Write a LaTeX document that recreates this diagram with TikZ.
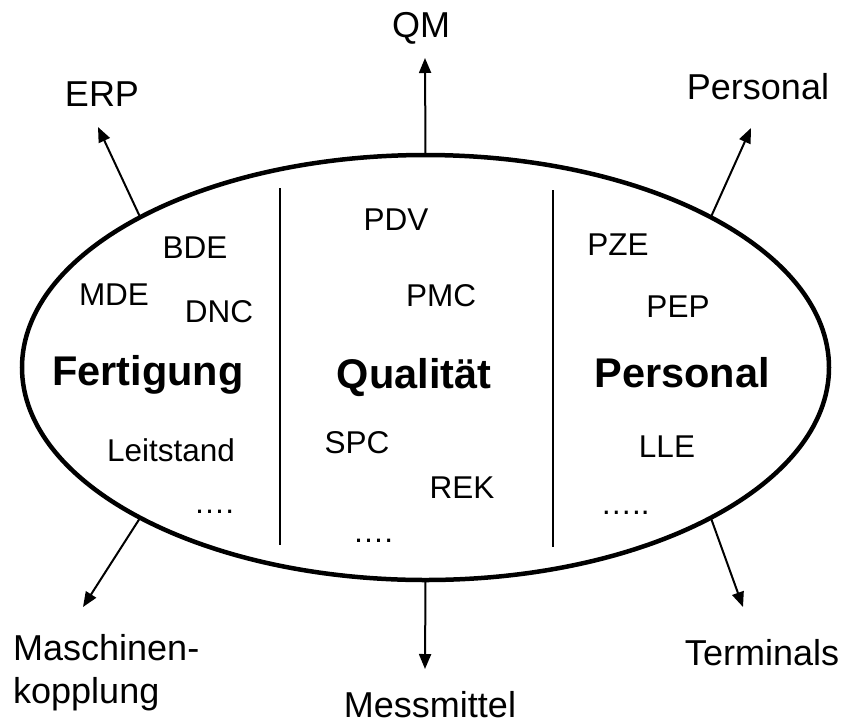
\documentclass[tikz,border=0pt]{standalone}
\usepackage{fontspec}
\setmainfont{Liberation Sans}
\usetikzlibrary{arrows.meta,shapes.geometric}
\begin{document}
\begin{tikzpicture}[x=1pt,y=-1pt,
  lbl/.style={font=\fontsize{36}{43}\selectfont, inner sep=0pt, anchor=base},
  sm/.style={font=\fontsize{31.5}{34}\selectfont, inner sep=0pt, anchor=base},
  big/.style={font=\bfseries\fontsize{41.5}{44}\selectfont, inner sep=0pt, anchor=base},
  arr/.style={line width=2pt, -{Triangle[length=15pt,width=12pt]}},
  divline/.style={line width=1.6pt}]
\useasboundingbox (0,0) rectangle (846,724);
\node[draw, ellipse, line width=4.5pt, inner sep=0pt, outer sep=0pt,
      minimum width=807pt, minimum height=425pt] (E) at (425.5,367.5) {};
% dividers
\coordinate (d1t) at (280,188);
\coordinate (d1b) at (280,545);
\coordinate (d2t) at (553,190);
\coordinate (d2b) at (553,547);
\draw[divline] (d1t) -- (d1b);
\draw[divline] (d2t) -- (d2b);
% arrow ends
\coordinate (tQM) at (425,58);
\coordinate (tERP) at (98,127);
\coordinate (tPer) at (751,128);
\coordinate (tMas) at (83,607);
\coordinate (tMes) at (425,669);
\coordinate (tTer) at (743,607);
\draw[arr] (E.north) -- (tQM);
\draw[arr] (E.north west) -- (tERP);
\draw[arr] (E.north east) -- (tPer);
\draw[arr] (E.south west) -- (tMas);
\draw[arr] (E.south) -- (tMes);
\draw[arr] (E.south east) -- (tTer);
% outer labels
\node[lbl] (qm) at (421,37) {QM};
\node[lbl] (erp) at (102,106) {ERP};
\node[lbl] (pers) at (758,99) {Personal};
\node[lbl, anchor=base west, align=left] (masch) at (13,703) {Maschinen-\\kopplung};
\node[lbl] (mess) at (430,717) {Messmittel};
\node[lbl] (term) at (762,665) {Terminals};
% Fertigung section
\node[sm] (bde) at (195,258) {BDE};
\node[sm] (mde) at (114,305) {MDE};
\node[sm] (dnc) at (219,322) {DNC};
\node[big] (fert) at (148,385) {Fertigung};
\node[sm] (leit) at (171,461) {Leitstand};
\node[sm] (dots1) at (214,513) {….};
% Qualitaet section
\node[sm] (pdv) at (396,230) {PDV};
\node[sm] (pmc) at (441,306) {PMC};
\node[big] (qual) at (414,388) {Qualität};
\node[sm] (spc) at (357,453) {SPC};
\node[sm] (rek) at (462,498) {REK};
\node[sm] (dots2) at (373,542) {….};
% Personal section
\node[sm] (pze) at (618,255) {PZE};
\node[sm] (pep) at (678,317) {PEP};
\node[big] (persb) at (682,387) {Personal};
\node[sm] (lle) at (667,457) {LLE};
\node[sm] (dots3) at (625,514) {…..};
\end{tikzpicture}
\end{document}
